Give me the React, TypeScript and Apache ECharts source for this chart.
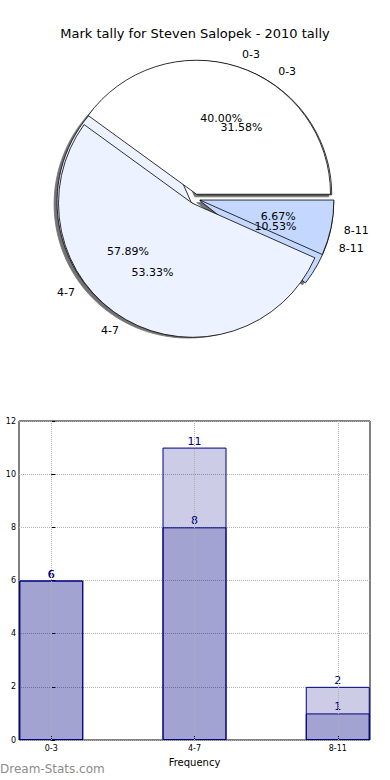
import React, { useEffect, useRef } from "react";
import * as echarts from "echarts";

const categories = ["0-3", "4-7", "8-11"];
const tallyFront = [6, 8, 1];
const tallyBack = [6, 11, 2];
const pieColors = ["#ffffff", "#ecf2ff", "#c4d8ff"];
const yMin = 0;
const yMax = 12;
const yStep = 2;

const FONT = "DejaVu Sans";

export default function App() {
  const ref = useRef<HTMLDivElement>(null);
  useEffect(() => {
    if (!ref.current) return;
    const chart = echarts.init(ref.current, null, { renderer: "svg" });
    const center = [195, 199];
    const r = 134;
    const explode = 5;
    const pieBase = {
      type: "pie",
      center,
      startAngle: 0,
      clockwise: false,
      selectedMode: "multiple",
      selectedOffset: explode,
      avoidLabelOverlap: false,
      minShowLabelAngle: 0,
      labelLayout: { hideOverlap: false },
      emphasis: { disabled: true },
      animation: false,
    };
    const slicePie = (vals: number[], z: number, shadow: boolean) => ({
      ...pieBase,
      z,
      radius: r,
      data: categories.map((c, i) => ({
        name: c,
        value: vals[i],
        selected: true,
        itemStyle: { color: pieColors[i] },
      })),
      itemStyle: shadow
        ? {
            borderColor: "#000",
            borderWidth: 0.8,
            shadowBlur: 1,
            shadowColor: "rgba(0,0,0,0.55)",
            shadowOffsetX: -3,
            shadowOffsetY: 2,
          }
        : { borderColor: "#000", borderWidth: 0.8 },
      select: { itemStyle: { borderColor: "#000", borderWidth: 0.8 } },
      label: {
        show: true,
        position: "outside",
        formatter: "{b}",
        fontSize: 11,
        fontFamily: FONT,
        color: "#000",
        distanceToLabelLine: 0,
      },
      labelLine: { show: false, length: 13, length2: 0 },
    });
    const pctPie = (vals: number[], z: number) => ({
      ...pieBase,
      z,
      silent: true,
      radius: 154,
      data: categories.map((c, i) => ({
        name: c,
        value: vals[i],
        selected: true,
      })),
      itemStyle: { color: "transparent", borderWidth: 0 },
      select: { itemStyle: { color: "transparent", borderWidth: 0 } },
      label: {
        show: true,
        position: "inside",
        overflow: "none",
        formatter: (p: any) => p.percent.toFixed(2) + "%",
        fontSize: 11,
        fontFamily: FONT,
        color: "#000",
      },
      labelLine: { show: false },
    });

    const idx = categories.map((_, i) => i);
    const barLabel = {
      show: true,
      position: "top",
      distance: 1,
      fontSize: 11,
      fontFamily: FONT,
      color: "#000080",
    };
    const barStyle = {
      color: "rgba(0,0,128,0.2)",
      borderColor: "#000080",
      borderWidth: 1,
    };

    chart.setOption({
      animation: false,
      backgroundColor: "#fff",
      title: {
        text: "Mark tally for Steven Salopek - 2010 tally",
        left: "center",
        top: 22,
        textStyle: { fontSize: 13, fontWeight: "normal", fontFamily: FONT, color: "#000" },
      },
      grid: {
        left: 19,
        right: 20,
        top: 421,
        bottom: 40,
        show: true,
        borderColor: "#000",
        borderWidth: 1,
        backgroundColor: "transparent",
      },
      xAxis: {
        type: "value",
        min: -0.225,
        max: idx.length - 1 + 0.225,
        axisLine: { show: false },
        axisTick: { show: true, inside: true, length: 4, customValues: idx, lineStyle: { color: "#000" } },
        axisLabel: {
          customValues: idx,
          formatter: (v: number) => categories[Math.round(v)] ?? "",
          fontSize: 8,
          fontFamily: FONT,
          color: "#000",
          margin: 4,
        },
        splitLine: { show: false },
        name: "Frequency",
        nameLocation: "middle",
        nameGap: 17,
        nameTextStyle: { fontSize: 10, fontFamily: FONT, color: "#000" },
      },
      yAxis: {
        type: "value",
        min: yMin,
        max: yMax,
        interval: yStep,
        axisLine: { show: false },
        axisTick: { show: true, inside: true, length: 4, lineStyle: { color: "#000" } },
        axisLabel: { fontSize: 8, fontFamily: FONT, color: "#000", margin: 3 },
        splitLine: { show: true, lineStyle: { type: "dotted", color: "#b0b0b0", width: 1 } },
      },
      graphic: [
        {
          type: "text",
          left: 0,
          top: 763,
          style: {
            text: "Dream-Stats.com",
            fontSize: 12,
            fontFamily: FONT,
            fill: "#8c8c8c",
          },
        },
      ],
      series: [
        slicePie(tallyBack, 1, true),
        slicePie(tallyFront, 2, false),
        pctPie(tallyBack, 3),
        pctPie(tallyFront, 4),
        {
          type: "bar",
          data: idx.map((i) => [i, tallyBack[i]]),
          barWidth: 64,
          barGap: "-100%",
          itemStyle: barStyle,
          label: barLabel,
          emphasis: { disabled: true },
          markLine: {
            silent: true,
            symbol: "none",
            label: { show: false },
            lineStyle: { type: "dotted", color: "#b0b0b0", width: 1 },
            data: idx.map((i) => ({ xAxis: i })),
          },
        },
        {
          type: "bar",
          data: idx.map((i) => [i, tallyFront[i]]),
          barWidth: 64,
          barGap: "-100%",
          itemStyle: barStyle,
          label: barLabel,
          emphasis: { disabled: true },
        },
      ],
    });
    return () => chart.dispose();
  }, []);
  return (
    <div
      ref={ref}
      style={{ position: "fixed", left: 0, top: 0, width: 390, height: 780 }}
    />
  );
}
